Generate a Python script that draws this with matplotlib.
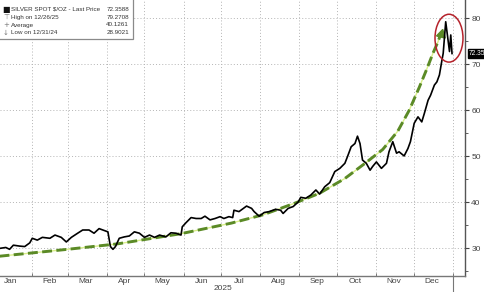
import matplotlib
matplotlib.use("Agg")
import matplotlib.pyplot as plt
import matplotlib.dates as mdates
import matplotlib.transforms as mtransforms
from matplotlib import font_manager
from matplotlib.patches import Ellipse, Rectangle
import pandas as pd

plt.rcParams["font.family"] = ["Liberation Sans", "DejaVu Sans"]

# ---------------- data ----------------
dates = [
    "2025-01-06", "2025-01-11", "2025-01-14", "2025-01-17", "2025-01-22", "2025-01-26",
    "2025-01-30", "2025-02-01", "2025-02-05", "2025-02-09", "2025-02-15", "2025-02-19",
    "2025-02-24", "2025-02-28", "2025-03-04", "2025-03-09", "2025-03-13", "2025-03-18",
    "2025-03-22", "2025-03-26", "2025-03-29", "2025-04-02", "2025-04-04", "2025-04-06",
    "2025-04-08", "2025-04-11", "2025-04-15", "2025-04-19", "2025-04-23", "2025-04-27",
    "2025-05-01", "2025-05-05", "2025-05-09", "2025-05-13", "2025-05-18", "2025-05-22",
    "2025-05-26", "2025-05-30", "2025-05-31", "2025-06-03", "2025-06-07", "2025-06-11",
    "2025-06-15", "2025-06-18", "2025-06-22", "2025-06-26", "2025-06-30", "2025-07-03",
    "2025-07-07", "2025-07-10", "2025-07-11", "2025-07-15", "2025-07-21", "2025-07-25",
    "2025-07-27", "2025-07-31", "2025-08-04", "2025-08-08", "2025-08-13", "2025-08-17",
    "2025-08-19", "2025-08-23", "2025-08-27", "2025-08-31", "2025-09-02", "2025-09-06",
    "2025-09-10", "2025-09-14", "2025-09-17", "2025-09-21", "2025-09-25", "2025-09-29",
    "2025-10-03", "2025-10-07", "2025-10-09", "2025-10-12", "2025-10-15", "2025-10-17",
    "2025-10-19", "2025-10-21", "2025-10-24", "2025-10-27", "2025-10-29", "2025-11-01",
    "2025-11-05", "2025-11-09", "2025-11-11", "2025-11-14", "2025-11-17", "2025-11-19",
    "2025-11-23", "2025-11-26", "2025-11-28", "2025-12-01", "2025-12-04", "2025-12-07",
    "2025-12-09", "2025-12-12", "2025-12-14", "2025-12-17", "2025-12-19", "2025-12-21",
    "2025-12-23", "2025-12-24", "2025-12-26", "2025-12-29", "2025-12-30", "2025-12-31",
]
price = [
    30.0, 30.2, 29.8, 30.7, 30.5, 30.4,
    31.2, 32.2, 31.8, 32.4, 32.2, 32.9,
    32.4, 31.4, 32.4, 33.3, 34.0, 34.0,
    33.3, 34.3, 34.0, 33.6, 30.4, 29.8,
    30.4, 32.2, 32.5, 32.7, 33.6, 33.3,
    32.4, 32.9, 32.4, 32.9, 32.5, 33.4,
    33.3, 32.9, 34.7, 35.6, 36.7, 36.5,
    36.5, 37.0, 36.2, 36.5, 36.9, 36.5,
    36.9, 36.7, 38.3, 38.0, 39.2, 38.7,
    38.0, 37.0, 37.8, 38.0, 38.5, 38.3,
    37.6, 38.7, 39.1, 40.1, 41.1, 40.9,
    41.6, 42.7, 41.8, 43.4, 44.3, 46.7,
    47.4, 48.5, 49.9, 52.1, 52.8, 54.4,
    52.8, 49.2, 48.5, 47.0, 47.8, 48.8,
    47.4, 48.5, 51.0, 53.2, 50.7, 51.0,
    50.1, 51.7, 53.2, 57.2, 58.6, 57.5,
    59.3, 62.2, 63.3, 65.5, 66.2, 67.7,
    70.9, 72.4, 79.27, 72.8, 76.4, 72.36,
]

trend_dates = [
    "2025-01-06", "2025-03-01", "2025-04-10", "2025-05-30", "2025-07-09", "2025-08-03",
    "2025-08-28", "2025-09-17", "2025-10-07", "2025-10-23", "2025-11-06", "2025-11-18",
    "2025-11-27", "2025-12-05", "2025-12-11", "2025-12-16", "2025-12-20", "2025-12-22",
]
trend_values = [
    28.3, 29.8, 31.0, 33.2, 35.5, 37.3,
    39.8, 42.0, 45.2, 48.5, 51.5, 55.5,
    60.0, 65.0, 69.0, 72.5, 75.0, 76.6,
]

months = ["Jan", "Feb", "Mar", "Apr", "May", "Jun",
          "Jul", "Aug", "Sep", "Oct", "Nov", "Dec"]
year_label = "2025"
y_ticks = [30, 40, 50, 60, 70, 80]

legend_symbols = ["■", "⊤", "+", "↓"]
legend_labels = ["SILVER SPOT $/OZ - Last Price", "High on 12/26/25",
                 "Average", "Low on 12/31/24"]
legend_values = ["72.3588", "79.2708", "40.1261", "28.9021"]
last_price = 72.3588
last_label = "72.35"

# narrow font for the legend if available
_names = {f.name for f in font_manager.fontManager.ttflist}
if "Liberation Sans Narrow" in _names:
    leg_family, leg_size = ["Liberation Sans Narrow", "DejaVu Sans"], 5.6
else:
    leg_family, leg_size = ["Liberation Sans", "DejaVu Sans"], 4.5

# ---------------- figure ----------------
W, H = 485, 292
fig = plt.figure(figsize=(W / 100, H / 100), dpi=100)
ax = fig.add_axes([0.0, 1 - 276 / H, 465 / W, 276 / H])

x = pd.to_datetime(dates)
tx = pd.to_datetime(trend_dates)

base = mdates.date2num(pd.Timestamp("2025-01-01"))
ax.set_xlim(base + 5.4, base + 374.3)
ax.set_ylim(24, 84)

grid_kw = dict(color="#b4b4b4", lw=0.7, ls=(0, (1, 2.2)), zorder=0)
for yv in y_ticks:
    ax.axhline(yv, **grid_kw)
month_starts = pd.date_range("2025-02-01", "2026-01-01", freq="MS")
for d in month_starts:
    ax.axvline(mdates.date2num(d), **grid_kw)

# trend (thin light under-line + dashed olive + arrow head)
ax.plot(tx, trend_values, color="#d9f08a", lw=1.0, zorder=2)
ax.plot(tx, trend_values, color="#5b8a26", lw=2.1, ls=(0, (3.4, 1.5)), zorder=3)
ax.plot(tx[-1:], trend_values[-1:], ls="none", marker=(3, 0, -14), ms=7.5,
        color="#5b8a26", mec="#5b8a26", zorder=4)

# price
ax.plot(x, price, color="black", lw=1.2, zorder=5)

# red circle
ax.add_patch(Ellipse((base + 361.6, 75.7), width=22.2, height=10.4,
                     fill=False, edgecolor="#b5222b", lw=1.1, zorder=6))

# axes styling
for s in ["top", "left"]:
    ax.spines[s].set_visible(False)
ax.spines["right"].set_color("#555555")
ax.spines["bottom"].set_color("#777777")
ax.spines["right"].set_linewidth(1.0)
ax.spines["bottom"].set_linewidth(1.0)

ax.yaxis.tick_right()
ax.set_yticks(y_ticks)
ax.set_yticklabels([str(v) for v in y_ticks])
ax.set_yticks([25, 35, 45, 55, 65, 75], minor=True)
ax.tick_params(axis="y", which="major", length=3, width=0.8, color="#444444",
               labelsize=6.0, labelcolor="#444444", pad=1.5)
ax.tick_params(axis="y", which="minor", length=2, width=0.6, color="#444444")

ax.set_xticks([mdates.date2num(d) for d in month_starts])
ax.set_xticklabels([])
mid = [mdates.date2num(pd.Timestamp(f"2025-{m:02d}-15")) for m in range(1, 13)]
ax.set_xticks(mid, minor=True)
ax.set_xticklabels(months, minor=True)
ax.tick_params(axis="x", which="major", direction="in", length=2, width=0.7,
               color="#777777")
ax.tick_params(axis="x", which="minor", length=0, labelsize=6.0,
               labelcolor="#444444", pad=1.5)

# year label and year separator
fig.text(223 / W, 1 - 289 / H, year_label, ha="center", va="center",
         fontsize=6.0, color="#444444")
trans = mtransforms.blended_transform_factory(ax.transData, fig.transFigure)
fig.add_artist(plt.Line2D([base + 365, base + 365], [0, 1 - 276 / H],
                          transform=trans, color="#777777", lw=0.8))

# last price label
ytrans = mtransforms.blended_transform_factory(fig.transFigure, ax.transData)
fig.text(469 / W, last_price, last_label, transform=ytrans, ha="left",
         va="center", fontsize=4.8, color="white",
         bbox=dict(boxstyle="square,pad=0.2", fc="black", ec="black"))

# legend box
fig.add_artist(Rectangle((-5 / W, 1 - 39 / H), 138 / W, 45 / H,
                         transform=fig.transFigure, facecolor="white",
                         edgecolor="#8a8a8a", lw=0.9, zorder=10))
row_y = [9.3, 17.3, 25.0, 32.7]
for sym, lab, val, yy in zip(legend_symbols, legend_labels, legend_values, row_y):
    fy = 1 - yy / H
    fig.text(6 / W, fy, sym, ha="center", va="center",
             fontsize=5.8 if sym == "■" else 5.0,
             color="#111111" if sym == "■" else "#777777",
             family=["DejaVu Sans"], zorder=11)
    fig.text(11 / W, fy, lab, ha="left", va="center", fontsize=leg_size,
             family=leg_family, color="#333333", zorder=11)
    fig.text(129 / W, fy, val, ha="right", va="center", fontsize=leg_size,
             family=leg_family, color="#333333", zorder=11)

fig.savefig("out.png", dpi=100)
